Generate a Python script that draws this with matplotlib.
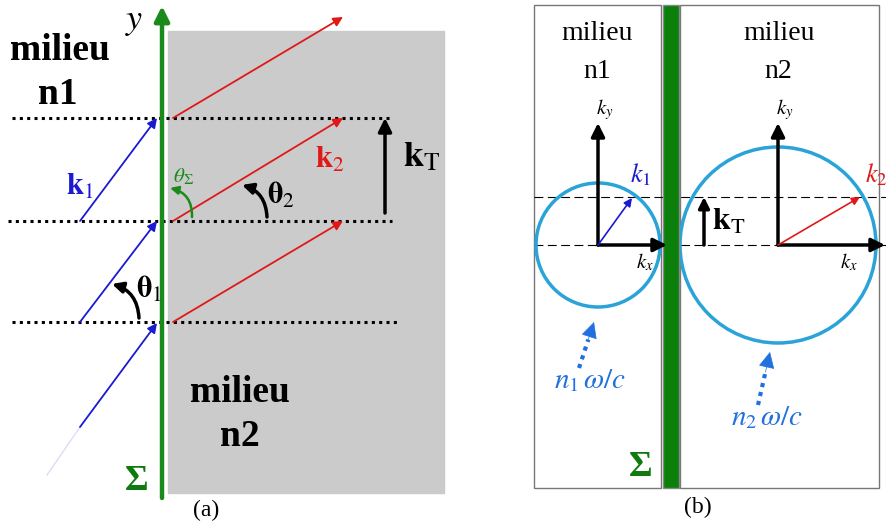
import numpy as np
import matplotlib.pyplot as plt
from matplotlib.patches import Rectangle, Circle

# geometry, in image pixels (x right, y down)
dotted_y = [118, 221, 322]
dotted_x = [(12, 392), (8, 392), (12, 398)]
red_arrows = [((173, 118), (343, 17)), ((173, 221), (343, 118)), ((173, 322), (343, 221))]
blue_arrows = [((80, 221), (157, 118)), ((80, 322), (157, 221)), ((80, 427), (157, 323))]
kt_a = (385, 213, 118)

box_left = (534, 5, 661, 488)
bar = (663, 5, 679, 488)
box_right = (680, 5, 879, 488)
dash_y = [197, 245]
origins = [(598, 245), (778, 245)]
radii = [62, 98]
ky_top = 123
kx_end = [667, 885]
k1_tip = (632, 198)
k2_tip = (860, 197)
kt_b = (704, 245, 197)
pointers = [((579, 368), (594, 322)), ((758, 405), (770, 352))]

GREEN = "#1a8a1a"
DKGREEN = "#0f7a0f"
CYAN = "#2aa4d8"
BLUE = "#1a1ad0"
RED = "#e01818"
LBLUE = "#2070e0"

plt.rcParams["font.family"] = ["Liberation Serif", "DejaVu Serif"]
plt.rcParams["mathtext.fontset"] = "stix"

fig = plt.figure(figsize=(8.87, 5.27), dpi=100)
ax = fig.add_axes([0, 0, 1, 1])
ax.set_xlim(0, 887)
ax.set_ylim(527, 0)
ax.axis("off")


def arrow(p0, p1, color, lw=1.2, ms=10, style="-|>", rad=0.0, z=3):
    ax.annotate("", xy=p1, xytext=p0,
                arrowprops=dict(arrowstyle=style, color=color, lw=lw, mutation_scale=ms,
                                shrinkA=0, shrinkB=0, connectionstyle="arc3,rad=%s" % rad),
                zorder=z)


# ---------- panel (a) ----------
ax.add_patch(Rectangle((168, 31), 276, 462, color="#cbcbcb", zorder=0))
for y, (x0, x1) in zip(dotted_y, dotted_x):
    ax.plot([x0, x1], [y, y], color="k", ls=(0, (1, 1.4)), lw=2.2, zorder=2)
arrow((162, 498), (162, 6), GREEN, lw=3.2, ms=22)
for p0, p1 in red_arrows:
    arrow(p0, p1, RED, lw=1.3, ms=14)
for p0, p1 in blue_arrows:
    arrow(p0, p1, BLUE, lw=1.3, ms=14)
ax.plot([47, 80], [475, 427], color=BLUE, lw=1.0, alpha=0.15, zorder=2)
arrow((kt_a[0], kt_a[1]), (kt_a[0], kt_a[2]), "k", lw=2.5, ms=20)

arrow((267, 217), (242, 185), "k", lw=2.5, ms=16, rad=0.35)
arrow((192, 217), (170, 188), GREEN, lw=1.8, ms=12, rad=0.4)
arrow((139, 318), (112, 284), "k", lw=2.5, ms=16, rad=0.35)

ax.text(60, 50, "milieu", fontsize=27, fontweight="bold", ha="center", va="center")
ax.text(58, 94, "n1", fontsize=27, fontweight="bold", ha="center", va="center")
ax.text(240, 392, "milieu", fontsize=27, fontweight="bold", ha="center", va="center")
ax.text(240, 437, "n2", fontsize=27, fontweight="bold", ha="center", va="center")
ax.text(134, 22, "$\\mathit{y}$", fontsize=26, ha="center", va="center")
ax.text(137, 482, "Σ", fontsize=26, fontweight="bold", color=DKGREEN, ha="center", va="center")
ax.text(206, 510, "(a)", fontsize=17, ha="center", va="center")
ax.text(80, 187, "$\\mathbf{k}_1$", fontsize=22, color=BLUE, ha="center", va="center")
ax.text(330, 160, "$\\mathbf{k}_2$", fontsize=22, color=RED, ha="center", va="center")
ax.text(422, 158, "$\\mathbf{k}_\\mathrm{T}$", fontsize=26, color="k", ha="center", va="center")
ax.text(281, 196, "$\\mathbf{\\theta}_2$", fontsize=22, ha="center", va="center")
ax.text(149, 290, "$\\mathbf{\\theta}_1$", fontsize=22, ha="center", va="center")
ax.text(183, 177, "$\\theta_\\Sigma$", fontsize=15, color=GREEN, ha="center", va="center")

# ---------- panel (b) ----------
for (x0, y0, x1, y1) in (box_left, box_right):
    ax.add_patch(Rectangle((x0, y0), x1 - x0, y1 - y0, fill=False, ec="#777777", lw=1.0, zorder=1))
ax.add_patch(Rectangle((bar[0], bar[1]), bar[2] - bar[0], bar[3] - bar[1],
                       fc="#0a800a", ec="#888888", lw=1.0, zorder=4))
for y in dash_y:
    ax.plot([534, 887], [y, y], color="k", ls=(0, (8, 4)), lw=0.8, zorder=2)
for (cx, cy), r in zip(origins, radii):
    ax.add_patch(Circle((cx, cy), r, fill=False, ec=CYAN, lw=2.5, zorder=3))
for (cx, cy), xe in zip(origins, kx_end):
    arrow((cx, cy), (cx, ky_top), "k", lw=2.5, ms=20, z=5)
    arrow((cx, cy), (xe, cy), "k", lw=2.5, ms=20, z=5)
arrow(origins[0], k1_tip, BLUE, lw=1.2, ms=12, z=5)
arrow(origins[1], k2_tip, RED, lw=1.2, ms=12, z=5)
arrow((kt_b[0], kt_b[1]), (kt_b[0], kt_b[2]), "k", lw=2.5, ms=16, z=5)

ax.text(597, 33, "milieu", fontsize=20, ha="center", va="center")
ax.text(597, 72, "n1", fontsize=20, ha="center", va="center")
ax.text(779, 33, "milieu", fontsize=20, ha="center", va="center")
ax.text(778, 72, "n2", fontsize=20, ha="center", va="center")
for (cx, cy), xe in zip(origins, kx_end):
    ax.text(cx + 7, 110, "$\\boldsymbol{k_y}$", fontsize=15, ha="center", va="center")
    ax.text(xe - 36 if cx > 700 else xe - 22, 262, "$\\boldsymbol{k_x}$", fontsize=15,
            ha="center", va="center")
ax.text(641, 175, "$\\boldsymbol{k_1}$", fontsize=19, color=BLUE, ha="center", va="center")
ax.text(876, 175, "$\\boldsymbol{k_2}$", fontsize=19, color=RED, ha="center", va="center")
ax.text(729, 222, "$\\mathbf{k}_\\mathrm{T}$", fontsize=23, ha="center", va="center")

for (x0, y0), (x1, y1) in pointers:
    t = 0.62
    xm, ym = x0 + t * (x1 - x0), y0 + t * (y1 - y0)
    ax.plot([x0, xm], [y0, ym], color=LBLUE, ls=(0, (1, 1.2)), lw=3.0, zorder=5)
    arrow((xm, ym), (x1, y1), LBLUE, lw=0.5, ms=26, z=5)
ax.text(590, 381, "$n_1\\,\\omega/c$", fontsize=21, color=LBLUE, ha="center", va="center")
ax.text(767, 418, "$n_2\\,\\omega/c$", fontsize=21, color=LBLUE, ha="center", va="center")
ax.text(641, 468, "Σ", fontsize=26, fontweight="bold", color=DKGREEN, ha="center", va="center")
ax.text(698, 507, "(b)", fontsize=17, ha="center", va="center")

fig.savefig("out.png", dpi=100)
